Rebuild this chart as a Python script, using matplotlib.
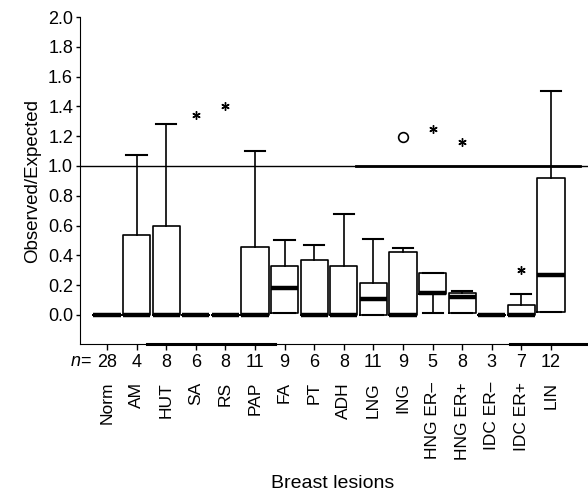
import matplotlib
matplotlib.use("Agg")
import matplotlib.pyplot as plt
import matplotlib.transforms as mtransforms

plt.rcParams['font.family'] = ['Liberation Sans', 'DejaVu Sans']
plt.rcParams['mathtext.fontset'] = 'custom'
plt.rcParams['mathtext.it'] = 'Liberation Sans:italic'
plt.rcParams['mathtext.rm'] = 'Liberation Sans'

# lesion categories and sample sizes
cats = ["Norm", "AM", "HUT", "SA", "RS", "PAP", "FA", "PT", "ADH", "LNG", "ING",
        "HNG ER\u2013", "HNG ER+", "IDC ER\u2013", "IDC ER+", "LIN"]
n_vals = [28, 4, 8, 6, 8, 11, 9, 6, 8, 11, 9, 5, 8, 3, 7, 12]

# box statistics
whislo = [0, 0, 0, 0, 0, 0, 0.01, 0, 0, 0, 0, 0.01, 0.015, 0, 0, 0.02]
q1     = [0, 0, 0, 0, 0, 0, 0.01, 0, 0, 0, 0, 0.14, 0.015, 0, 0, 0.02]
med    = [0, 0, 0, 0, 0, 0, 0.18, 0, 0, 0.107, 0, 0.15, 0.12, 0, 0, 0.27]
q3     = [0, 0.54, 0.60, 0, 0, 0.455, 0.327, 0.37, 0.327, 0.215, 0.42, 0.28, 0.146, 0, 0.07, 0.92]
whishi = [0, 1.076, 1.285, 0, 0, 1.10, 0.50, 0.47, 0.68, 0.51, 0.45, 0.28, 0.16, 0, 0.14, 1.50]

# outliers
out_star_idx = [3, 4, 11, 12, 14]
out_star_val = [1.34, 1.40, 1.25, 1.16, 0.30]
out_circ_idx = [10]
out_circ_val = [1.197]

fig = plt.figure(figsize=(5.88, 4.98), dpi=100)
ax = fig.add_axes([80/588, 1-344/498, 1-80/588, (344-17)/498])

pos = list(range(1, len(cats)+1))
stats = []
for i in range(len(cats)):
    stats.append(dict(whislo=whislo[i], q1=q1[i], med=med[i], q3=q3[i],
                      whishi=whishi[i], fliers=[]))

# reference line at 1.0
ax.axhline(1.0, color='black', lw=1.0, zorder=1)
ax.plot([9.4, 16.98], [1.0, 1.0], color='black', lw=2.0, zorder=1)

ax.bxp(stats, positions=pos, widths=0.92, capwidths=0.68, showfliers=False,
       boxprops=dict(color='black', lw=1.2),
       whiskerprops=dict(color='black', lw=1.2),
       capprops=dict(color='black', lw=1.5),
       medianprops=dict(color='black', lw=3.2, solid_capstyle='butt'))

ax.plot([pos[i] for i in out_star_idx], out_star_val, ls='none',
        marker=(6, 2, 0), ms=6, mec='black', mew=1.0, color='black')
ax.plot([pos[i] for i in out_circ_idx], out_circ_val, ls='none',
        marker='o', ms=7, mfc='white', mec='black', mew=1.2)

ax.set_xlim(0.09, 17.25)
ax.set_ylim(-0.195, 2.0)
ax.spines['top'].set_visible(False)
ax.spines['right'].set_visible(False)
ax.spines['left'].set_bounds(-0.195, 2.0)

ax.set_yticks([0.0, 0.2, 0.4, 0.6, 0.8, 1.0, 1.2, 1.4, 1.6, 1.8, 2.0])
ax.set_yticklabels(["%.1f" % v for v in ax.get_yticks()])
ax.tick_params(axis='y', length=3, width=1, pad=2, labelsize=13)
ax.set_xticks(pos)
ax.set_xticklabels([str(v) for v in n_vals])
ax.tick_params(axis='x', length=4, width=1, pad=3, labelsize=13)
ax.set_ylabel("Observed/Expected", fontsize=13.5, labelpad=5)

# thick segments along x axis as in the original
ax.plot([2.35, 6.68], [-0.195, -0.195], color='black', lw=2.2, clip_on=False)
ax.plot([14.6, 17.25], [-0.195, -0.195], color='black', lw=2.2, clip_on=False)

trans = mtransforms.blended_transform_factory(ax.transData, ax.transAxes)
ax.text(0.47, -0.053, r"$\it{n}$=", transform=trans, ha='right', va='center',
        fontsize=13)
for p, c in zip(pos, cats):
    ax.text(p, -0.116, c, transform=trans, rotation=90, ha='center', va='top',
            fontsize=12.5)

fig.text(333/588, 1-483/498, "Breast lesions", ha='center', va='center',
         fontsize=14)

fig.savefig("out.png", dpi=100)
